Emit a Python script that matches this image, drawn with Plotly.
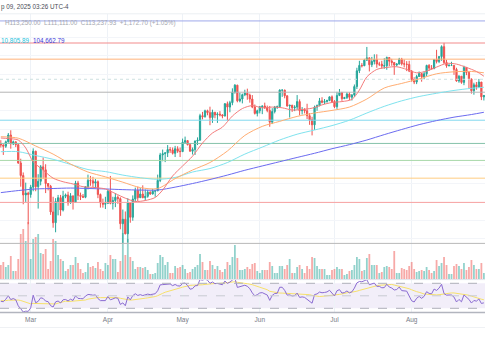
import numpy as np
import pandas as pd
import plotly.graph_objects as go

# ---------------- data (prices in USD thousands) ----------------
start_date = "2025-02-17"

open_k = [
    96.2, 95.8, 95.5, 96.6, 98.3, 96.1, 96.6, 95.9, 91.5, 88.6, 84.3, 84.7,
    84.4, 86.0, 94.3, 86.1, 87.3, 90.6, 89.9, 86.8, 86.2, 80.7, 78.5, 82.9, 83.7, 81.1, 84.0, 84.3,
    82.6, 84.1, 82.7, 86.9, 84.2, 84.0, 83.8, 86.1, 87.5, 87.4, 86.9, 87.2, 84.4, 82.6, 82.3,
    82.5, 85.1, 82.5, 83.1, 83.8, 83.5, 78.3, 79.2, 76.3, 82.6, 79.6, 83.4, 85.3, 83.7, 84.5,
    83.7, 84.0, 84.9, 84.5, 85.1, 85.2, 87.5, 93.4, 93.7, 93.9, 94.7, 94.6, 93.8, 94.9, 94.3,
    94.2, 96.5, 96.9, 95.9, 94.3, 94.7, 96.8, 97.0, 103.3, 103.0, 104.6, 104.1, 102.8, 104.2, 103.5,
    103.7, 103.5, 103.2, 106.5, 105.6, 106.8, 109.7, 111.7, 107.3, 107.8, 109.0, 109.4, 108.9, 107.8,
    105.6, 103.9,
    104.6, 105.7, 105.9, 105.4, 104.7, 101.6, 104.4, 105.6, 105.7, 110.3, 110.3, 108.7, 105.9, 106.1,
    105.4, 105.6, 107.1, 104.6, 104.9, 104.6, 103.3, 102.2, 100.9, 105.6, 106.0, 107.3, 106.9, 107.1,
    107.4, 108.4,
    107.1, 105.7, 108.8, 109.6, 107.9, 108.2, 109.2, 108.3, 108.9, 111.3, 115.9, 117.5, 117.4, 119.1,
    119.8, 117.7, 118.7, 119.3, 117.9, 117.9, 117.3, 117.4, 119.9, 118.8, 118.4, 117.6, 117.9, 119.4,
    118.0, 117.9, 117.8,
    115.8, 113.3, 112.6, 114.2, 115.1, 114.1, 115.0, 117.5, 116.7, 116.5, 119.3, 118.7, 120.2, 123.3,
    118.4, 117.4, 117.5, 117.5, 116.3, 112.9, 114.3, 112.5, 116.9, 115.4, 113.5, 110.1, 111.8, 111.2,
    112.6, 108.4,
]
high_k = [
    97.0, 96.0, 96.9, 98.8, 99.5, 96.9, 96.7, 96.0, 92.5, 89.3, 87.0, 85.0,
    86.5, 95.0, 94.4, 88.9, 91.0, 92.8, 91.2, 86.9, 86.5, 83.9, 83.6, 84.3, 84.3, 85.2, 84.6, 85.0,
    84.7, 84.1, 87.4, 87.4, 84.8, 84.5, 86.1, 88.8, 88.5, 88.3, 87.8, 87.5, 84.6, 83.5, 83.9,
    85.5, 88.5, 83.9, 84.7, 84.2, 83.8, 81.2, 80.8, 83.6, 82.7, 84.2, 85.9, 86.1, 85.8, 86.4,
    85.5, 85.4, 85.1, 85.6, 85.3, 88.8, 93.9, 94.7, 94.0, 95.8, 95.3, 95.2, 95.6, 95.5, 95.2,
    97.4, 97.9, 96.9, 96.3, 95.2, 96.9, 97.7, 103.8, 104.3, 104.9, 104.9, 105.7, 104.9, 104.3,
    104.2, 104.5, 103.7, 106.7, 107.1, 107.3, 110.8, 112.0, 111.8, 109.5, 109.3, 110.4, 110.7, 109.3,
    108.9, 106.3, 104.9,
    105.9, 105.9, 106.8, 106.0, 105.9, 105.3, 105.9, 106.0, 110.5, 110.4, 110.4, 108.8, 106.2, 106.2,
    106.1, 108.9, 107.7, 105.6, 105.3, 106.5, 104.0, 103.0, 106.0, 106.3, 108.1, 108.3, 107.8, 107.6,
    108.5, 108.8,
    107.5, 109.8, 110.6, 109.8, 108.4, 109.7, 109.7, 109.2, 111.9, 116.8, 118.9, 118.2, 119.5, 123.2,
    119.9, 120.1, 120.9, 120.9, 118.6, 118.9, 119.7, 120.2, 120.0, 119.5, 118.5, 118.2, 119.8, 119.8,
    119.3, 118.8, 118.9,
    116.1, 114.0, 114.7, 115.7, 115.1, 115.7, 117.7, 117.9, 117.6, 119.3, 122.3, 120.3, 123.7, 124.5,
    119.2, 117.9, 118.6, 117.6, 116.8, 114.6, 114.3, 117.4, 117.0, 115.8, 113.6, 112.4, 112.6, 113.5,
    112.6, 108.9,
]
low_k = [
    95.2, 93.4, 95.1, 96.4, 94.9, 95.8, 95.3, 91.3, 86.1, 82.3, 82.8, 78.2,
    83.7, 85.1, 85.1, 81.4, 86.4, 87.8, 84.7, 85.3, 80.1, 77.5, 76.6, 80.0, 79.9, 80.8, 83.6, 82.0,
    82.4, 81.2, 82.6, 83.2, 83.2, 83.7, 83.6, 85.5, 86.3, 85.9, 85.8, 83.6, 81.6, 81.6, 81.3,
    82.4, 82.3, 81.2, 81.7, 82.4, 77.2, 74.4, 76.2, 74.6, 78.5, 78.9, 82.8, 83.0, 83.7, 83.6,
    83.1, 83.7, 84.3, 84.4, 83.9, 85.1, 87.1, 91.9, 91.7, 92.9, 93.9, 93.5, 92.9, 93.9, 92.9,
    94.1, 96.3, 95.7, 94.2, 93.5, 93.4, 95.8, 96.9, 102.3, 102.8, 103.4, 100.8, 101.4, 102.6,
    101.4, 103.1, 102.6, 103.1, 102.0, 104.2, 106.1, 109.3, 106.9, 106.9, 106.6, 108.6, 107.6, 106.8,
    105.3, 103.6, 103.1,
    103.9, 103.7, 105.1, 104.2, 100.4, 101.1, 103.9, 105.1, 105.4, 108.4, 108.0, 105.7, 102.8, 104.3,
    104.5, 104.9, 103.4, 103.6, 103.9, 102.4, 100.9, 98.2, 99.6, 104.6, 105.8, 106.6, 106.4, 106.8,
    107.2, 106.7,
    105.3, 105.1, 108.6, 107.3, 107.8, 107.8, 107.5, 107.4, 108.4, 110.6, 115.2, 116.9, 117.3, 118.9,
    115.7, 117.0, 117.8, 116.8, 117.3, 116.5, 116.5, 116.2, 117.3, 117.4, 114.7, 117.2, 117.8, 117.5,
    116.9, 115.8, 115.5,
    112.7, 112.0, 112.0, 114.1, 112.7, 113.4, 114.3, 115.9, 116.3, 116.5, 118.1, 118.2, 118.9, 117.9,
    116.8, 117.2, 117.3, 114.7, 112.7, 112.4, 112.1, 111.7, 114.6, 110.8, 109.3, 109.0, 110.4, 110.9,
    107.5, 107.4,
]
close_k = [
    95.8, 95.5, 96.6, 98.3, 96.1, 96.6, 95.9, 91.5, 88.6, 84.3, 84.7, 84.4,
    86.0, 94.3, 86.1, 87.3, 90.6, 89.9, 86.8, 86.2, 80.7, 78.5, 82.9, 83.7, 81.1, 84.0, 84.3, 82.6,
    84.1, 82.7, 86.9, 84.2, 84.0, 83.8, 86.1, 87.5, 87.4, 86.9, 87.2, 84.4, 82.6, 82.3, 82.5,
    85.1, 82.5, 83.1, 83.8, 83.5, 78.3, 79.2, 76.3, 82.6, 79.6, 83.4, 85.3, 83.7, 84.5, 83.7,
    84.0, 84.9, 84.5, 85.1, 85.2, 87.5, 93.4, 93.7, 93.9, 94.7, 94.6, 93.8, 94.9, 94.3, 94.2,
    96.5, 96.9, 95.9, 94.3, 94.7, 96.8, 97.0, 103.3, 103.0, 104.6, 104.1, 102.8, 104.2, 103.5,
    103.7, 103.5, 103.2, 106.5, 105.6, 106.8, 109.7, 111.7, 107.3, 107.8, 109.0, 109.4, 108.9, 107.8,
    105.6, 103.9, 104.6,
    105.7, 105.9, 105.4, 104.7, 101.6, 104.4, 105.6, 105.7, 110.3, 110.3, 108.7, 105.9, 106.1, 105.4,
    105.6, 107.1, 104.6, 104.9, 104.6, 103.3, 102.2, 100.9, 105.6, 106.0, 107.3, 106.9, 107.1, 107.4,
    108.4, 107.1,
    105.7, 108.8, 109.6, 107.9, 108.2, 109.2, 108.3, 108.9, 111.3, 115.9, 117.5, 117.4, 119.1, 119.8,
    117.7, 118.7, 119.3, 117.9, 117.9, 117.3, 117.4, 119.9, 118.8, 118.4, 117.6, 117.9, 119.4, 118.0,
    117.9, 117.8, 115.8,
    113.3, 112.6, 114.2, 115.1, 114.1, 115.0, 117.5, 116.7, 116.5, 119.3, 118.7, 120.2, 123.3, 118.4,
    117.4, 117.5, 117.5, 116.3, 112.9, 114.3, 112.5, 116.9, 115.4, 113.5, 110.1, 111.8, 111.2, 112.6,
    108.4, 108.8,
]
volume = [
    14, 17, 12, 14, 23, 8, 8, 20, 45, 50, 38, 57,
    20, 40, 42, 45, 26, 25, 30, 10, 18, 40, 38, 24, 20, 18, 8, 10, 14, 14, 22, 16, 10, 6, 7, 16,
    12, 13, 11, 17, 10, 8, 16,
    14, 24, 20, 20, 7, 18, 46, 24, 40, 22, 18, 10, 12, 12, 11, 12, 9, 5, 5, 6, 16, 24, 22, 14,
    17, 6, 6, 13, 11, 12,
    14, 10, 6, 7, 10, 12, 14, 25, 17, 9, 9, 18, 14, 10, 13, 9, 7, 10, 17, 14, 22, 34, 21, 9, 9,
    10, 12, 10, 15, 16, 8,
    6, 9, 9, 9, 17, 13, 6, 6, 13, 13, 10, 14, 20, 6, 6, 12, 14, 10, 6, 13, 10, 22, 21, 13, 10,
    10, 10, 4, 4, 9,
    10, 12, 10, 10, 4, 5, 8, 9, 14, 22, 20, 8, 9, 21, 25, 14, 14, 14, 6, 7, 12, 13, 12, 10, 28,
    6, 6, 11, 10, 9, 13,
    17, 10, 7, 8, 9, 8, 12, 9, 6, 8, 19, 13, 16, 22, 14, 5, 5, 13, 15, 13, 10, 16, 9, 12, 19,
    14, 10, 10, 16, 6,
]
# closes Jan 20 - Feb 16 (before the visible window), used only to warm up the RSI
warmup_close_k = [
    102.0, 106.1, 103.7, 104.0, 104.8, 104.7, 102.6, 102.1, 101.3, 103.7, 104.7, 102.4,
    100.6, 97.7, 101.4, 97.9, 96.6, 96.6, 96.5, 96.5, 96.5, 97.4, 95.8, 97.9, 96.6, 97.5, 97.6, 96.1,
]

# moving averages
slow_ma_dates = [
    "2025-02-17", "2025-02-24", "2025-03-03", "2025-03-10", "2025-03-17", "2025-03-24", "2025-03-31",
    "2025-04-07", "2025-04-14", "2025-04-21", "2025-04-28", "2025-05-05", "2025-05-12", "2025-05-19",
    "2025-05-26", "2025-06-02", "2025-06-09", "2025-06-16", "2025-06-23", "2025-06-30", "2025-07-07",
    "2025-07-14", "2025-07-21", "2025-07-28", "2025-08-04", "2025-08-11", "2025-08-18", "2025-08-25",
    "2025-08-30",
]
ema50_k = [97.87, 97.5, 95.57, 93.6, 91.25, 89.4, 88.3, 87.1, 85.9, 85.7, 87.9, 89.86, 91.6, 94.35,
           98.2, 100.5, 101.8, 103.1, 104.0, 104.7, 105.6, 107.8, 110.9, 112.2, 113.5, 115.0, 115.6,
           115.7, 115.3]
ema100_k = [94.18, 94.18, 93.26, 92.36, 91.16, 89.97, 89.5, 88.7, 88.1, 87.75, 88.15, 89.4, 90.2, 91.6,
            93.6, 95.3, 97.05, 98.5, 99.57, 100.7, 102.1, 104.0, 105.8, 107.3, 108.5, 109.4, 110.2,
            110.8, 111.1]
ema200_k = [84.8, 85.25, 85.6, 85.7, 85.8, 85.7, 85.6, 85.45, 85.36, 85.36, 86.0, 86.8, 87.7, 88.7,
            89.8, 90.8, 91.8, 92.8, 93.8, 94.9, 95.9, 97.05, 98.4, 99.7, 100.95, 102.0, 102.9, 103.6,
            104.2]
fast_ma_dates = [
    "2025-02-17", "2025-02-20", "2025-02-24", "2025-02-27", "2025-03-02", "2025-03-06", "2025-03-10",
    "2025-03-14", "2025-03-18", "2025-03-22", "2025-03-27", "2025-03-31", "2025-04-04", "2025-04-08",
    "2025-04-12", "2025-04-16", "2025-04-20", "2025-04-23", "2025-04-27", "2025-05-01", "2025-05-05",
    "2025-05-09", "2025-05-13", "2025-05-17", "2025-05-21", "2025-05-25", "2025-05-29", "2025-06-02",
    "2025-06-06", "2025-06-10", "2025-06-14", "2025-06-18", "2025-06-22", "2025-06-26", "2025-06-30",
    "2025-07-04", "2025-07-08", "2025-07-11", "2025-07-14", "2025-07-18", "2025-07-22", "2025-07-26",
    "2025-07-30", "2025-08-03", "2025-08-07", "2025-08-11", "2025-08-15", "2025-08-19", "2025-08-23",
    "2025-08-27", "2025-08-30",
]
ema20_k = [97.55, 97.4, 97.05, 95.1, 91.8, 89.86, 88.0, 87.2, 86.7, 86.1, 85.9, 85.6, 84.6, 83.6,
           82.9, 83.1, 83.75, 85.36, 88.5, 90.8, 93.1, 96.3, 98.8, 100.3, 103.2, 105.2, 106.0, 105.4,
           105.6, 105.4, 104.8, 104.95, 105.3, 106.2, 106.85, 107.1, 107.7, 110.3, 114.1, 116.3, 116.9,
           117.1, 116.3, 115.3, 115.8, 117.0, 118.1, 117.9, 116.9, 115.7, 114.3]

# horizontal price levels drawn on the chart
level_prices_k = [131.7, 124.45, 119.4, 109.7, 102.1, 96.2, 92.1, 88.0, 82.7, 74.45]
level_colors = ["#9ea9ea", "#f28b8b", "#ffb27a", "#b4b4b4", "#82d8ef", "#84c2aa", "#a8d8a9",
                "#ffcc80", "#f6a0a0", "#b8b8b8"]
dotted_level_k = 113.4

month_ticks = ["2025-03-01", "2025-04-01", "2025-05-01", "2025-06-01", "2025-07-01", "2025-08-01"]
month_labels = ["Mar", "Apr", "May", "Jun", "Jul", "Aug"]
grid_prices_k = [126.2, 120.4, 114.9, 104.6, 99.8, 95.2, 90.8, 86.7, 78.9, 75.3]

# ---------------- derived ----------------
dates = pd.date_range(start_date, periods=len(close_k), freq="D")
o = np.array(open_k) * 1000
h = np.array(high_k) * 1000
l = np.array(low_k) * 1000
c = np.array(close_k) * 1000

# RSI(14), Wilder smoothing, and its 14-period SMA
allc = np.array(warmup_close_k + close_k)
d = np.diff(allc)
g = np.clip(d, 0, None)
s = np.clip(-d, 0, None)
n = 14
rsi = np.full(len(allc), np.nan)
ag, al = g[:n].mean(), s[:n].mean()
rsi[n] = 100 - 100 / (1 + ag / al)
for i in range(n, len(d)):
    ag = (ag * (n - 1) + g[i]) / n
    al = (al * (n - 1) + s[i]) / n
    rsi[i + 1] = 100 - 100 / (1 + ag / al)
rsi_ma = pd.Series(rsi).rolling(14).mean().to_numpy()
k0 = len(warmup_close_k)
rsi_vis = rsi[k0:]
rsi_ma_vis = rsi_ma[k0:]

x0 = pd.Timestamp("2025-02-16 16:05")
x1 = pd.Timestamp("2025-08-30 10:50")

UP, DOWN = "#26a69a", "#ef5350"
vol_colors = ["rgba(38,166,154,0.5)" if cc >= oo else "rgba(239,83,80,0.5)" for oo, cc in zip(o, c)]

fig = go.Figure()

# volume (base axis, behind candles)
fig.add_trace(go.Bar(x=dates, y=volume, marker=dict(color=vol_colors, line=dict(width=0)),
                     width=0.72 * 86400000, xaxis="x", yaxis="y", hoverinfo="skip"))

# horizontal levels
for p, col in zip(level_prices_k, level_colors):
    fig.add_trace(go.Scatter(x=[x0, x1], y=[p * 1000, p * 1000], mode="lines",
                             line=dict(color=col, width=1), xaxis="x", yaxis="y2", hoverinfo="skip"))
fig.add_trace(go.Scatter(x=[x0, x1], y=[dotted_level_k * 1000] * 2, mode="lines",
                         line=dict(color="#cde0e0", width=1, dash="dot"), xaxis="x", yaxis="y2",
                         hoverinfo="skip"))

# moving averages
for dts, vals, col in [(slow_ma_dates, ema200_k, "#6b6bf0"), (slow_ma_dates, ema100_k, "#7fe3ee"),
                       (slow_ma_dates, ema50_k, "#ffad72"), (fast_ma_dates, ema20_k, "#f47c7c")]:
    fig.add_trace(go.Scatter(x=pd.to_datetime(dts), y=np.array(vals) * 1000, mode="lines",
                             line=dict(color=col, width=1, shape="spline", smoothing=0.8),
                             xaxis="x", yaxis="y2", hoverinfo="skip"))

# candles
fig.add_trace(go.Candlestick(x=dates, open=o, high=h, low=l, close=c,
                             increasing=dict(line=dict(color=UP, width=1), fillcolor=UP),
                             decreasing=dict(line=dict(color=DOWN, width=1), fillcolor=DOWN),
                             whiskerwidth=0, xaxis="x", yaxis="y2", hoverinfo="skip"))

# RSI
fig.add_trace(go.Scatter(x=dates, y=rsi_ma_vis, mode="lines", line=dict(color="#f6e06a", width=1),
                         xaxis="x2", yaxis="y3", hoverinfo="skip"))
fig.add_trace(go.Scatter(x=dates, y=rsi_vis, mode="lines", line=dict(color="#8a6bd1", width=1),
                         xaxis="x2", yaxis="y3", hoverinfo="skip"))

H = 360.0
def py(px):
    return 1 - px / H

top_main, bot_main = 14, 279
top_rsi, bot_rsi = 280, 312.3
log_top = 5.09501 + (43 - top_main) / 898
log_bot = 5.09501 - (bot_main - 43) / 898
rsi_top = 70 + (283.3 - top_rsi) / 0.625
rsi_bot = 30 - (bot_rsi - 308.3) / 0.625

grid = "#eef2f7"
fig.update_layout(
    width=485, height=360, margin=dict(l=0, r=0, t=0, b=0),
    paper_bgcolor="white", plot_bgcolor="white", showlegend=False, hovermode=False,
    font=dict(family="Liberation Sans, Arial, sans-serif"),
    xaxis=dict(domain=[0, 1], anchor="y", type="date", range=[x0, x1], showticklabels=False,
               tickvals=pd.to_datetime(month_ticks), showgrid=True, gridcolor=grid, gridwidth=1,
               zeroline=False, showline=False, rangeslider=dict(visible=False)),
    yaxis=dict(domain=[py(bot_main), py(top_main)], range=[0, bot_main - top_main], visible=False,
               showgrid=False, fixedrange=True),
    yaxis2=dict(overlaying="y", type="log", range=[log_bot, log_top], showticklabels=False,
                tickvals=[p * 1000 for p in grid_prices_k], showgrid=True, gridcolor="#f3f5f9",
                zeroline=False, showline=False, side="right"),
    xaxis2=dict(domain=[0, 1], anchor="y3", type="date", matches="x", tickvals=pd.to_datetime(month_ticks),
                ticktext=month_labels, tickfont=dict(size=6.5, color="#787b86"), showgrid=True,
                gridcolor=grid, zeroline=False, showline=False, ticks="", ticklabelstandoff=2),
    yaxis3=dict(domain=[py(bot_rsi), py(top_rsi)], range=[rsi_bot, rsi_top], visible=False,
                showgrid=False),
    shapes=[
        dict(type="rect", xref="paper", yref="y3", x0=0, x1=1, y0=30, y1=70,
             fillcolor="rgba(126,87,194,0.10)", line=dict(width=0), layer="below"),
        dict(type="line", xref="paper", yref="y3", x0=0, x1=1, y0=70, y1=70,
             line=dict(color="#aeb0ba", width=1, dash="dash")),
        dict(type="line", xref="paper", yref="y3", x0=0, x1=1, y0=50, y1=50,
             line=dict(color="#c8cad2", width=1, dash="dash")),
        dict(type="line", xref="paper", yref="y3", x0=0, x1=1, y0=30, y1=30,
             line=dict(color="#aeb0ba", width=1, dash="dash")),
        dict(type="line", xref="paper", yref="paper", x0=0, x1=1, y0=py(279.6), y1=py(279.6),
             line=dict(color="#e0e3eb", width=1)),
        dict(type="line", xref="paper", yref="paper", x0=0, x1=1, y0=py(312.5), y1=py(312.5),
             line=dict(color="#b2b5be", width=1.5)),
        dict(type="line", xref="paper", yref="paper", x0=0, x1=1, y0=py(327.5), y1=py(327.5),
             line=dict(color="#eff1f4", width=1)),
        dict(type="line", xref="paper", yref="paper", x0=0, x1=1, y0=py(13.8), y1=py(13.8),
             line=dict(color="#eceff3", width=1)),
    ],
    annotations=[
        dict(text="p 09, 2025 03:26 UTC-4", xref="paper", yref="paper", x=0, y=py(7),
             xanchor="left", yanchor="middle", showarrow=False, borderpad=0,
             font=dict(size=6.3, color="#4a4d57")),
        dict(text="H113,250.00  L111,111.00  C113,237.93  +1,172.70 (+1.05%)", xref="paper",
             yref="paper", x=4 / 485, y=py(22.7), xanchor="left", yanchor="middle", showarrow=False,
             borderpad=0, font=dict(size=6.3, color="#a5a8b0")),
        dict(text="10,805.89", xref="paper", yref="paper", x=0, y=py(40.7), xanchor="left",
             yanchor="middle", showarrow=False, borderpad=0, font=dict(size=6.3, color="#22c3dd")),
        dict(text="104,662.79", xref="paper", yref="paper", x=31.5 / 485, y=py(40.7), xanchor="left",
             yanchor="middle", showarrow=False, borderpad=0, font=dict(size=6.3, color="#3b3bd8")),
    ],
)

fig.write_html("out.html", config={"displayModeBar": False, "staticPlot": True},
               post_script="document.body.style.margin='0';document.body.style.overflow='hidden';")
